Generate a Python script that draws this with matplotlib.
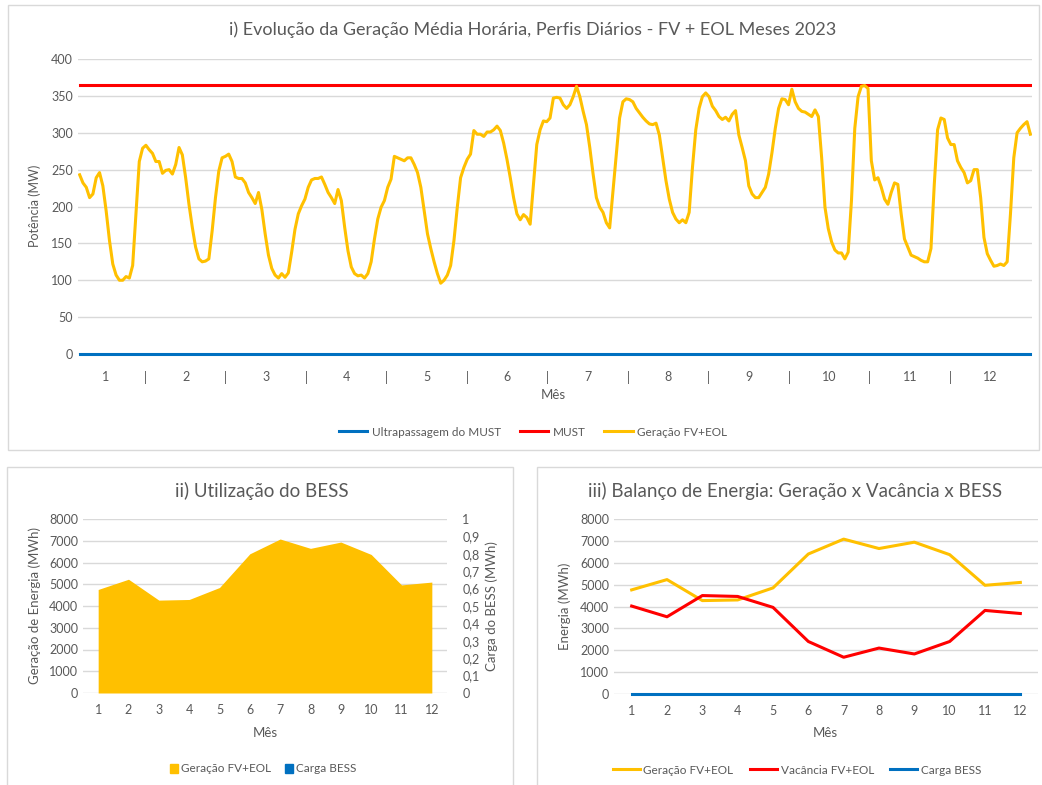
import numpy as np
import matplotlib
matplotlib.use("Agg")
import matplotlib.pyplot as plt
from matplotlib.patches import Rectangle, Patch

plt.rcParams['font.family'] = ['Lato', 'DejaVu Sans']

# perfis diarios medios (MW), 24 horas por mes
m01 = [243, 232, 226, 212, 217, 239, 246, 228, 194, 154, 122, 107, 100, 100, 105, 103, 120, 190, 261, 279, 283, 277, 272, 261]
m02 = [261, 245, 249, 250, 244, 257, 280, 270, 239, 203, 172, 145, 129, 125, 126, 129, 167, 212, 248, 266, 268, 271, 261, 240]
m03 = [238, 238, 232, 219, 212, 204, 219, 196, 163, 134, 116, 107, 103, 109, 104, 110, 138, 169, 190, 201, 210, 226, 236, 238]
m04 = [238, 240, 230, 219, 212, 204, 223, 208, 172, 140, 118, 109, 106, 107, 103, 109, 125, 156, 183, 199, 208, 226, 237, 268]
m05 = [266, 264, 262, 266, 266, 257, 246, 226, 194, 163, 143, 125, 109, 96, 100, 107, 120, 154, 199, 239, 253, 264, 271, 303]
m06 = [298, 298, 295, 301, 301, 304, 309, 303, 286, 264, 239, 212, 190, 182, 189, 185, 176, 230, 284, 304, 316, 315, 320, 347]
m07 = [348, 347, 338, 333, 338, 349, 363, 349, 329, 311, 280, 244, 212, 199, 192, 178, 171, 221, 271, 320, 342, 346, 345, 342]
m08 = [333, 327, 321, 316, 312, 311, 313, 297, 266, 235, 210, 192, 183, 178, 182, 178, 192, 253, 304, 333, 349, 354, 349, 336]
m09 = [330, 322, 318, 321, 316, 325, 330, 297, 280, 262, 228, 217, 212, 212, 219, 226, 244, 273, 306, 333, 346, 345, 338, 359]
m10 = [342, 333, 329, 328, 325, 322, 331, 322, 266, 199, 170, 152, 141, 137, 137, 129, 138, 208, 306, 349, 363, 364, 360, 262]
m11 = [236, 239, 226, 210, 203, 219, 232, 230, 190, 156, 145, 134, 132, 130, 127, 125, 125, 143, 230, 304, 320, 318, 293, 284]
m12 = [284, 262, 253, 246, 232, 235, 250, 250, 212, 158, 136, 127, 119, 120, 122, 120, 125, 190, 266, 300, 306, 311, 315, 298]
must_mw = 365

meses = list(range(1, 13))
geracao_mwh = [4760, 5230, 4270, 4300, 4850, 6400, 7080, 6650, 6940, 6370, 4970, 5100]
vacancia_mwh = [4020, 3530, 4500, 4460, 3960, 2400, 1680, 2100, 1830, 2400, 3820, 3680]
carga_bess = [0] * 12

rotulos_x = []
for m in meses:
    rotulos_x.append(str(m))
    if m < 12:
        rotulos_x.append('|')

AMARELO = '#FFC000'
VERMELHO = '#FF0000'
AZUL = '#0070C0'
CINZA = '#595959'
GRADE = '#D9D9D9'

W, H = 1042, 785
fig = plt.figure(figsize=(W / 100, H / 100), dpi=100)


def rect(l, t, r, b):
    return [l / W, 1 - b / H, (r - l) / W, (b - t) / H]


def px(x, y):
    return x / W, 1 - y / H


def moldura(l, t, r, b):
    fig.patches.append(Rectangle((l / W, 1 - b / H), (r - l) / W, (b - t) / H,
                                 transform=fig.transFigure, fill=False,
                                 edgecolor=GRADE, linewidth=1.0))


def estilo(ax):
    for s in ax.spines.values():
        s.set_visible(False)
    ax.tick_params(length=0, colors=CINZA, labelsize=9)
    ax.grid(axis='y', color=GRADE, linewidth=1)
    ax.set_axisbelow(True)


moldura(8, 5, 1039, 450)
moldura(7, 467, 513, 800)
moldura(537, 467, 1050, 800)

# ---- i) perfil horario
perfil = np.concatenate([m01, m02, m03, m04, m05, m06, m07, m08, m09, m10, m11, m12])
n = len(perfil)
x = np.arange(n)
ax1 = fig.add_axes(rect(78, 59, 1032, 354))
estilo(ax1)
ax1.plot(x, np.zeros(n), color=AZUL, lw=2.2, label='Ultrapassagem do MUST', clip_on=False)
ax1.plot(x, np.full(n, must_mw), color=VERMELHO, lw=2.2, label='MUST')
ax1.plot(x, perfil, color=AMARELO, lw=2.2, label='Geração FV+EOL')
ax1.set_xlim(-0.5, n - 0.5)
ax1.set_ylim(0, 400)
ax1.set_yticks(range(0, 401, 50))
ax1.set_xticks(np.linspace(7.7, 274.9, len(rotulos_x)))
ax1.set_xticklabels(rotulos_x)
ax1.tick_params(axis='x', pad=12)
fig.text(*px(533, 30), 'i) Evolução da Geração Média Horária, Perfis Diários - FV + EOL Meses 2023',
         ha='center', va='center', fontsize=13, color=CINZA)
fig.text(*px(35, 206), 'Potência (MW)', rotation=90, ha='center', va='center', fontsize=9, color=CINZA)
fig.text(*px(553, 395), 'Mês', ha='center', va='center', fontsize=9.5, color=CINZA)
fig.legend(handles=ax1.get_lines(), loc='center', bbox_to_anchor=px(533, 432), ncol=3,
           frameon=False, fontsize=8.5, labelcolor=CINZA, handlelength=2.4, handletextpad=0.4,
           columnspacing=1.6)

# ---- ii) Utilizacao do BESS
ax2 = fig.add_axes(rect(83, 519, 447, 693))
estilo(ax2)
ax2.fill_between(meses, geracao_mwh, color=AMARELO, linewidth=0)
ax2.set_xlim(0.5, 12.5)
ax2.set_ylim(0, 8000)
ax2.set_yticks(range(0, 8001, 1000))
ax2.set_xticks(meses)
ax2.tick_params(axis='x', pad=8)
ax2b = ax2.twinx()
for s in ax2b.spines.values():
    s.set_visible(False)
ax2b.fill_between(meses, carga_bess, color=AZUL, linewidth=0)
ax2b.set_ylim(0, 1)
ax2b.set_yticks(np.arange(0, 1.01, 0.1))
ax2b.set_yticklabels(['0'] + [f'0,{k}' for k in range(1, 10)] + ['1'])
ax2b.tick_params(length=0, colors=CINZA, labelsize=9, pad=11)
fig.text(*px(262, 491), 'ii) Utilização do BESS', ha='center', va='center', fontsize=13.5, color=CINZA)
fig.text(*px(35, 606), 'Geração de Energia (MWh)', rotation=90, ha='center', va='center', fontsize=9.5, color=CINZA)
fig.text(*px(492, 606), 'Carga do BESS (MWh)', rotation=90, ha='center', va='center', fontsize=9.5, color=CINZA)
fig.text(*px(265, 733), 'Mês', ha='center', va='center', fontsize=9.5, color=CINZA)
fig.legend(handles=[Patch(color=AMARELO, label='Geração FV+EOL'), Patch(color=AZUL, label='Carga BESS')],
           loc='center', bbox_to_anchor=px(263, 769), ncol=2, frameon=False, fontsize=8.5,
           labelcolor=CINZA, handlelength=0.7, handleheight=0.7, handletextpad=0.2, columnspacing=1.2)

# ---- iii) Balanco de energia
ax3 = fig.add_axes(rect(614, 519, 1038, 694))
estilo(ax3)
l1, = ax3.plot(meses, geracao_mwh, color=AMARELO, lw=2.2, label='Geração FV+EOL')
l2, = ax3.plot(meses, vacancia_mwh, color=VERMELHO, lw=2.2, label='Vacância FV+EOL')
l3, = ax3.plot(meses, carga_bess, color=AZUL, lw=2.2, label='Carga BESS', clip_on=False)
ax3.set_xlim(0.5, 12.5)
ax3.set_ylim(0, 8000)
ax3.set_yticks(range(0, 8001, 1000))
ax3.set_xticks(meses)
ax3.tick_params(axis='x', pad=8)
fig.text(*px(795, 491), 'iii) Balanço de Energia: Geração x Vacância x BESS', ha='center', va='center',
         fontsize=13.5, color=CINZA)
fig.text(*px(565, 606), 'Energia (MWh)', rotation=90, ha='center', va='center', fontsize=9.5, color=CINZA)
fig.text(*px(825, 733), 'Mês', ha='center', va='center', fontsize=9.5, color=CINZA)
fig.legend(handles=[l1, l2, l3], loc='center', bbox_to_anchor=px(797, 770), ncol=3, frameon=False,
           fontsize=8.5, labelcolor=CINZA, handlelength=2.3, handletextpad=0.3, columnspacing=1.4)

fig.savefig('out.png', dpi=100)
